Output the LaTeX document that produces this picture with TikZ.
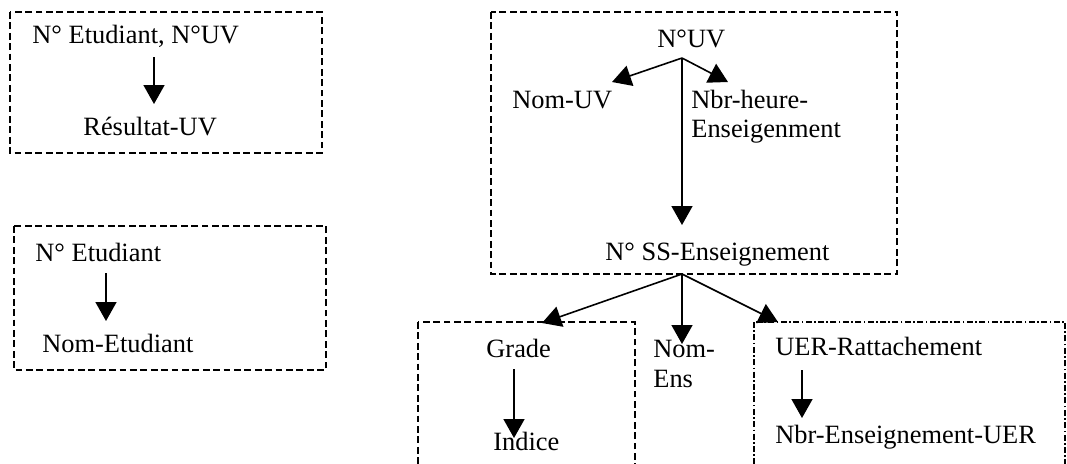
\documentclass[tikz,border=0pt]{standalone}
\usepackage{fontspec}
\setmainfont{Liberation Serif}
\usetikzlibrary{arrows.meta}

\begin{document}
\begin{tikzpicture}[x=0.5pt, y=-0.5pt,
  txt/.style={anchor=base west, inner sep=0pt, font=\fontsize{13.2}{15}\selectfont},
  dep/.style={-{Triangle[width=10.5pt,length=9.5pt]}, line width=0.8pt},
  grp/.style={line width=0.8pt, dash pattern=on 3.4pt off 1.8pt},
  grpdot/.style={line width=0.8pt, dash pattern=on 3pt off 1.2pt on 0.8pt off 1.2pt}]
  \useasboundingbox (0,0) rectangle (1067,463);
  \clip (0,0) rectangle (1067,463);
  \draw [grp] (10,12) rectangle (322,153);
  \node [txt] (etuv) at (32,43) {N° Etudiant, N°UV};
  \node [txt] (resuv) at (83,135) {Résultat-UV};
  \draw [dep] ([shift={(122,14)}]etuv.base west) -- ([shift={(71,-31)}]resuv.base west);
  \draw [grp] (14,226) rectangle (326,370);
  \node [txt] (etu) at (35,261) {N° Etudiant};
  \node [txt] (nometu) at (42,352) {Nom-Etudiant};
  \draw [dep] ([shift={(71,12)}]etu.base west) -- ([shift={(64,-31)}]nometu.base west);
  \draw [grp] (491,12) rectangle (897,274);
  \node [txt] (nuv) at (657,47) {N°UV};
  \node [txt] (nomuv) at (512,108) {Nom-UV};
  \node [txt] (nbrh) at (691,108) {Nbr-heure-};
  \node [txt] (nbrhb) at (691,137) {Enseigenment};
  \node [txt] (nss) at (605,260) {N° SS-Enseignement};
  \coordinate (uvroot) at ([shift={(25,11)}]nuv.base west);
  \draw [dep] (uvroot) -- ([shift={(100,-26)}]nomuv.base west);
  \draw [dep] (uvroot) -- ([shift={(37,-26)}]nbrh.base west);
  \draw [dep] (uvroot) -- ([shift={(77,-35)}]nss.base west);
  \draw [grp] (418,322) rectangle (635,480);
  \node [txt] (grade) at (486,357) {Grade};
  \node [txt] (indice) at (493,450) {Indice};
  \draw [dep] ([shift={(28,12)}]grade.base west) -- ([shift={(21,-12)}]indice.base west);
  \node [txt] (nomens) at (653,357) {Nom-};
  \node [txt] (nomensb) at (653,387) {Ens};
  \draw [grpdot] (754,322) rectangle (1065,480);
  \node [txt] (uer) at (775,355) {UER-Rattachement};
  \node [txt] (nbruer) at (775,443) {Nbr-Enseignement-UER};
  \draw [dep] ([shift={(27,15)}]uer.base west) -- ([shift={(27,-25)}]nbruer.base west);
  \coordinate (ssroot) at ([shift={(77,14)}]nss.base west);
  \draw [dep] (ssroot) -- ([shift={(56,-34)}]grade.base west);
  \draw [dep] (ssroot) -- ([shift={(29,-13)}]nomens.base west);
  \draw [dep] (ssroot) -- ([shift={(3,-33)}]uer.base west);
\end{tikzpicture}
\end{document}
